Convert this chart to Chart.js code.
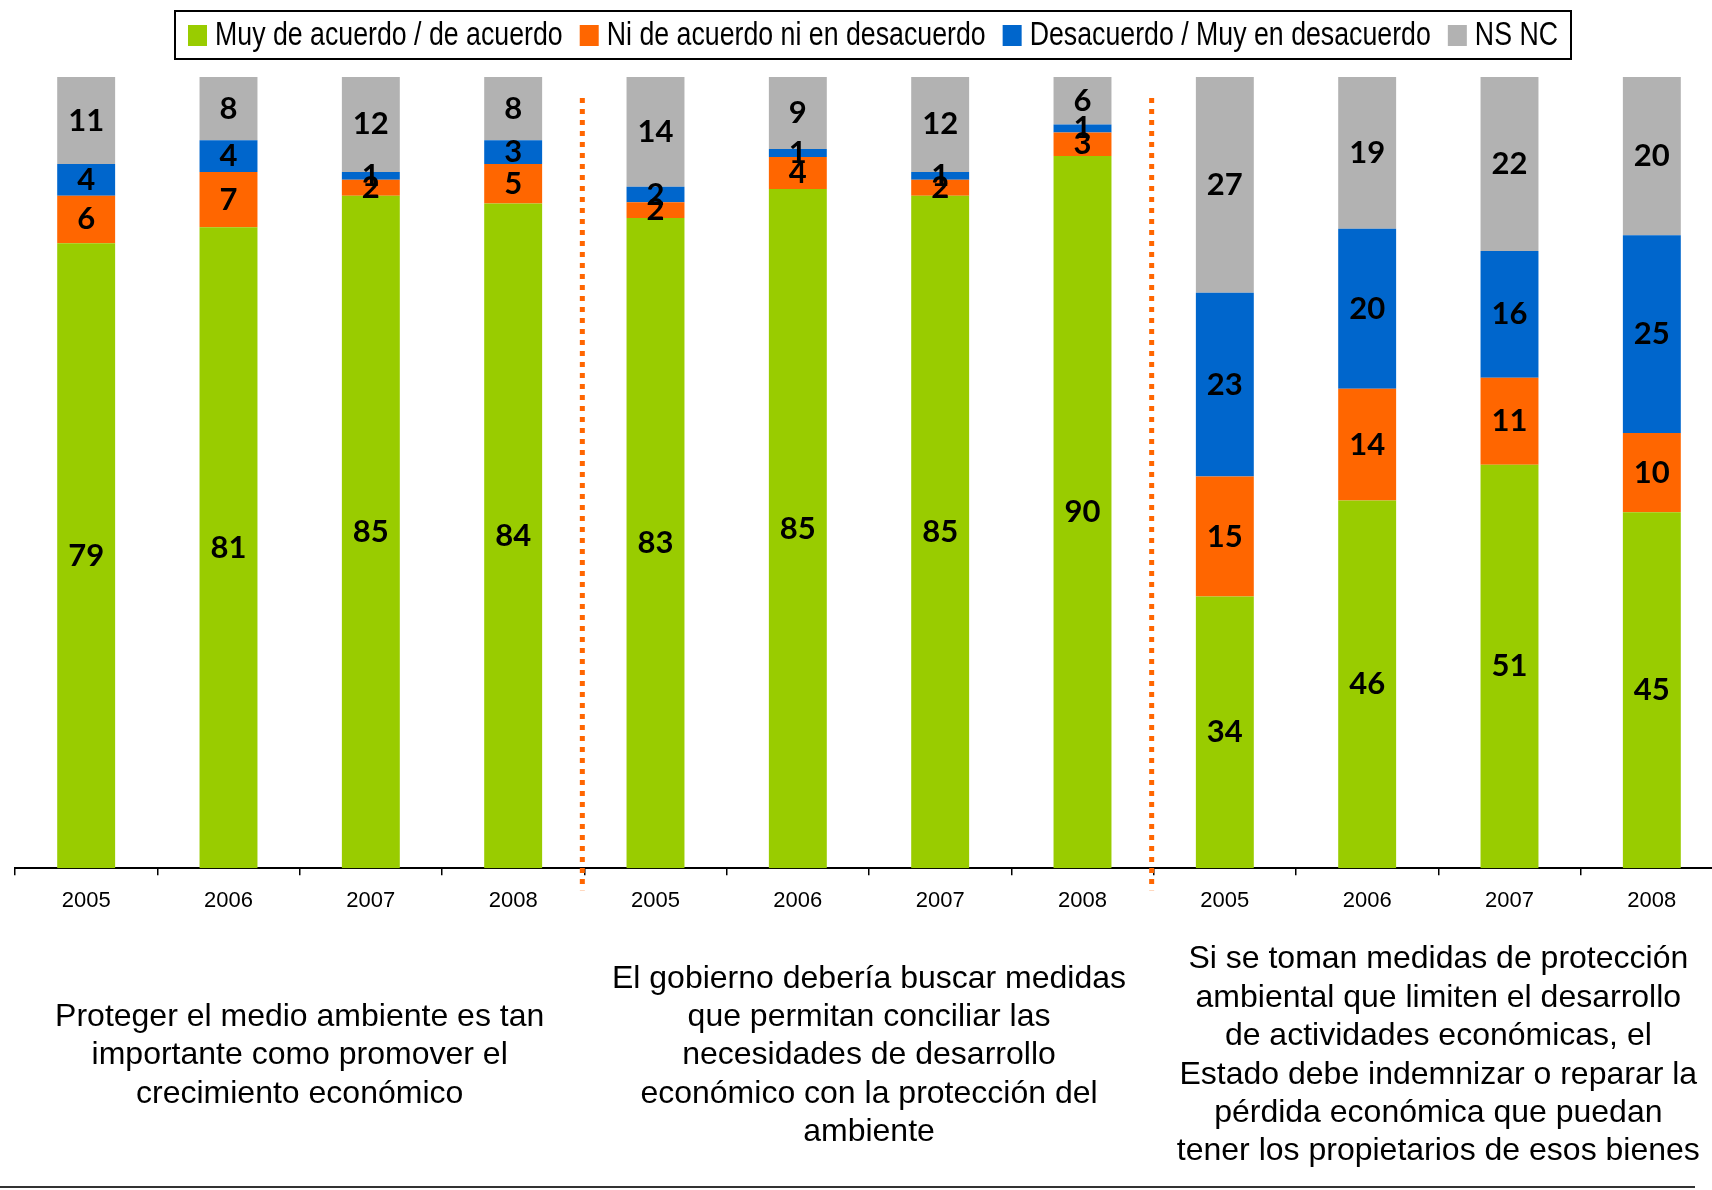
<!DOCTYPE html>
<html>
<head>
<meta charset="utf-8">
<script src="https://cdn.jsdelivr.net/npm/chart.js@4.4.1/dist/chart.umd.min.js"></script>
<style>
	html, body { margin: 0; padding: 0; background: #fff; overflow: hidden; }
	#wrap { width: 1740px; height: 1190px; }
</style>
</head>
<body>
<div id="wrap"><canvas id="barChart" width="1740" height="1190"></canvas></div>
<script>
const years = ['2005', '2006', '2007', '2008', '2005', '2006', '2007', '2008', '2005', '2006', '2007', '2008'];
const seriesNames = ['Muy de acuerdo / de acuerdo', 'Ni de acuerdo ni en desacuerdo', 'Desacuerdo / Muy en desacuerdo', 'NS NC'];
const acuerdo    = [79, 81, 85, 84, 83, 85, 85, 90, 34, 46, 51, 45];
const niNi       = [6, 7, 2, 5, 2, 4, 2, 3, 15, 14, 11, 10];
const desacuerdo = [4, 4, 1, 3, 2, 1, 1, 1, 23, 20, 16, 25];
const nsnc       = [11, 8, 12, 8, 14, 9, 12, 6, 27, 19, 22, 20];
const groupLabels = [
	['Proteger el medio ambiente es tan', 'importante como promover el', 'crecimiento económico'],
	['El gobierno debería buscar medidas', 'que permitan conciliar las', 'necesidades de desarrollo', 'económico con la protección del', 'ambiente'],
	['Si se toman medidas de protección', 'ambiental que limiten el desarrollo', 'de actividades económicas, el', 'Estado debe indemnizar o reparar la', 'pérdida económica que puedan', 'tener los propietarios de esos bienes']
];
const colors = ['#99CC00', '#FF6600', '#0066CC', '#B2B2B2'];

// 100% stacked, like the original: each column scaled to its own total
const series = [acuerdo, niNi, desacuerdo, nsnc];
const totals = years.map((y, i) => series.reduce((s, arr) => s + arr[i], 0));

const barLabels = {
	id: 'barLabels',
	afterDatasetsDraw(chart) {
		const ctx = chart.ctx;
		ctx.save();
		ctx.font = 'bold 31px Lato, "DejaVu Sans", sans-serif';
		ctx.fillStyle = '#000';
		ctx.textAlign = 'center';
		ctx.textBaseline = 'middle';
		chart.data.datasets.forEach((ds, i) => {
			chart.getDatasetMeta(i).data.forEach((bar, j) => {
				ctx.fillText(ds.raw[j], bar.x, (bar.y + bar.base) / 2);
			});
		});
		ctx.restore();
	}
};

// framed legend with condensed (Arial Narrow like) text
const narrowLegend = {
	id: 'narrowLegend',
	afterDraw(chart) {
		const ctx = chart.ctx;
		const squeeze = 0.81;
		const box = 19, gap = 8, between = 17, pad = 13;
		ctx.save();
		ctx.font = '33px "Liberation Sans", Arial, sans-serif';
		const items = chart.data.datasets.map(ds => ({
			text: ds.label,
			color: ds.backgroundColor,
			w: ctx.measureText(ds.label).width * squeeze
		}));
		const inner = items.reduce((s, it) => s + box + gap + it.w, 0) + between * (items.length - 1);
		const cx = chart.width / 2 + 3;
		const left = cx - inner / 2 - pad;
		const top = 11, bottom = 59, mid = 35;
		ctx.strokeStyle = '#000';
		ctx.lineWidth = 2;
		ctx.strokeRect(left, top, inner + pad * 2, bottom - top);
		let x = left + pad;
		ctx.textBaseline = 'middle';
		items.forEach(it => {
			ctx.fillStyle = it.color;
			ctx.fillRect(x, mid - 10, box, 21);
			x += box + gap;
			ctx.save();
			ctx.translate(x, mid + 1);
			ctx.scale(squeeze, 1);
			ctx.fillStyle = '#000';
			ctx.fillText(it.text, 0, 0);
			ctx.restore();
			x += it.w + between;
		});
		ctx.restore();
	}
};

const extras = {
	id: 'extras',
	afterDraw(chart) {
		const ctx = chart.ctx;
		const x = chart.scales.x;
		const a = chart.chartArea;
		ctx.save();
		// dotted separators between the three questions
		ctx.strokeStyle = '#FF6600';
		ctx.lineWidth = 5;
		ctx.setLineDash([5, 6]);
		[4, 8].forEach(k => {
			const px = (x.getPixelForTick(k - 1) + x.getPixelForTick(k)) / 2 - 2;
			ctx.beginPath();
			ctx.moveTo(px, a.top + 21);
			ctx.lineTo(px, a.bottom + 22);
			ctx.stroke();
		});
		ctx.setLineDash([]);
		// bottom rule
		ctx.strokeStyle = '#333';
		ctx.lineWidth = 2;
		ctx.beginPath();
		ctx.moveTo(0, 1187);
		ctx.lineTo(1695, 1187);
		ctx.stroke();
		ctx.restore();
	}
};

Chart.defaults.font.family = '"Liberation Sans", Arial, sans-serif';
Chart.defaults.color = '#000';

var chartDiv = document.getElementById('barChart');
var myChart = new Chart(chartDiv, {
	type: 'bar',
	data: {
		labels: years,
		datasets: series.map((arr, i) => ({
			label: seriesNames[i],
			data: arr.map((v, j) => v / totals[j] * 100),
			raw: arr,
			backgroundColor: colors[i],
			borderWidth: 0,
			categoryPercentage: 1,
			barPercentage: 0.407
		}))
	},
	options: {
		responsive: false,
		animation: false,
		layout: { padding: { left: 15, right: 17, top: 77, bottom: -32 } },
		plugins: {
			tooltip: { enabled: false },
			legend: { display: false }
		},
		scales: {
			x: {
				stacked: true,
				offset: true,
				grid: { offset: true, drawOnChartArea: false, drawTicks: true, tickLength: 7, color: '#000', lineWidth: 1.5 },
				border: { display: true, color: '#000', width: 2 },
				ticks: { color: '#000', font: { size: 22 }, padding: 13, maxRotation: 0, autoSkip: false }
			},
			x2: {
				type: 'category',
				labels: groupLabels,
				position: 'bottom',
				offset: true,
				grid: { display: false, drawTicks: false },
				border: { display: false },
				ticks: { color: '#000', font: { size: 32, lineHeight: 1.2 }, padding: 32, crossAlign: 'center', maxRotation: 0, autoSkip: false }
			},
			y: { stacked: true, display: false, min: 0, max: 100 }
		}
	},
	plugins: [barLabels, narrowLegend, extras]
});
</script>
</body>
</html>
